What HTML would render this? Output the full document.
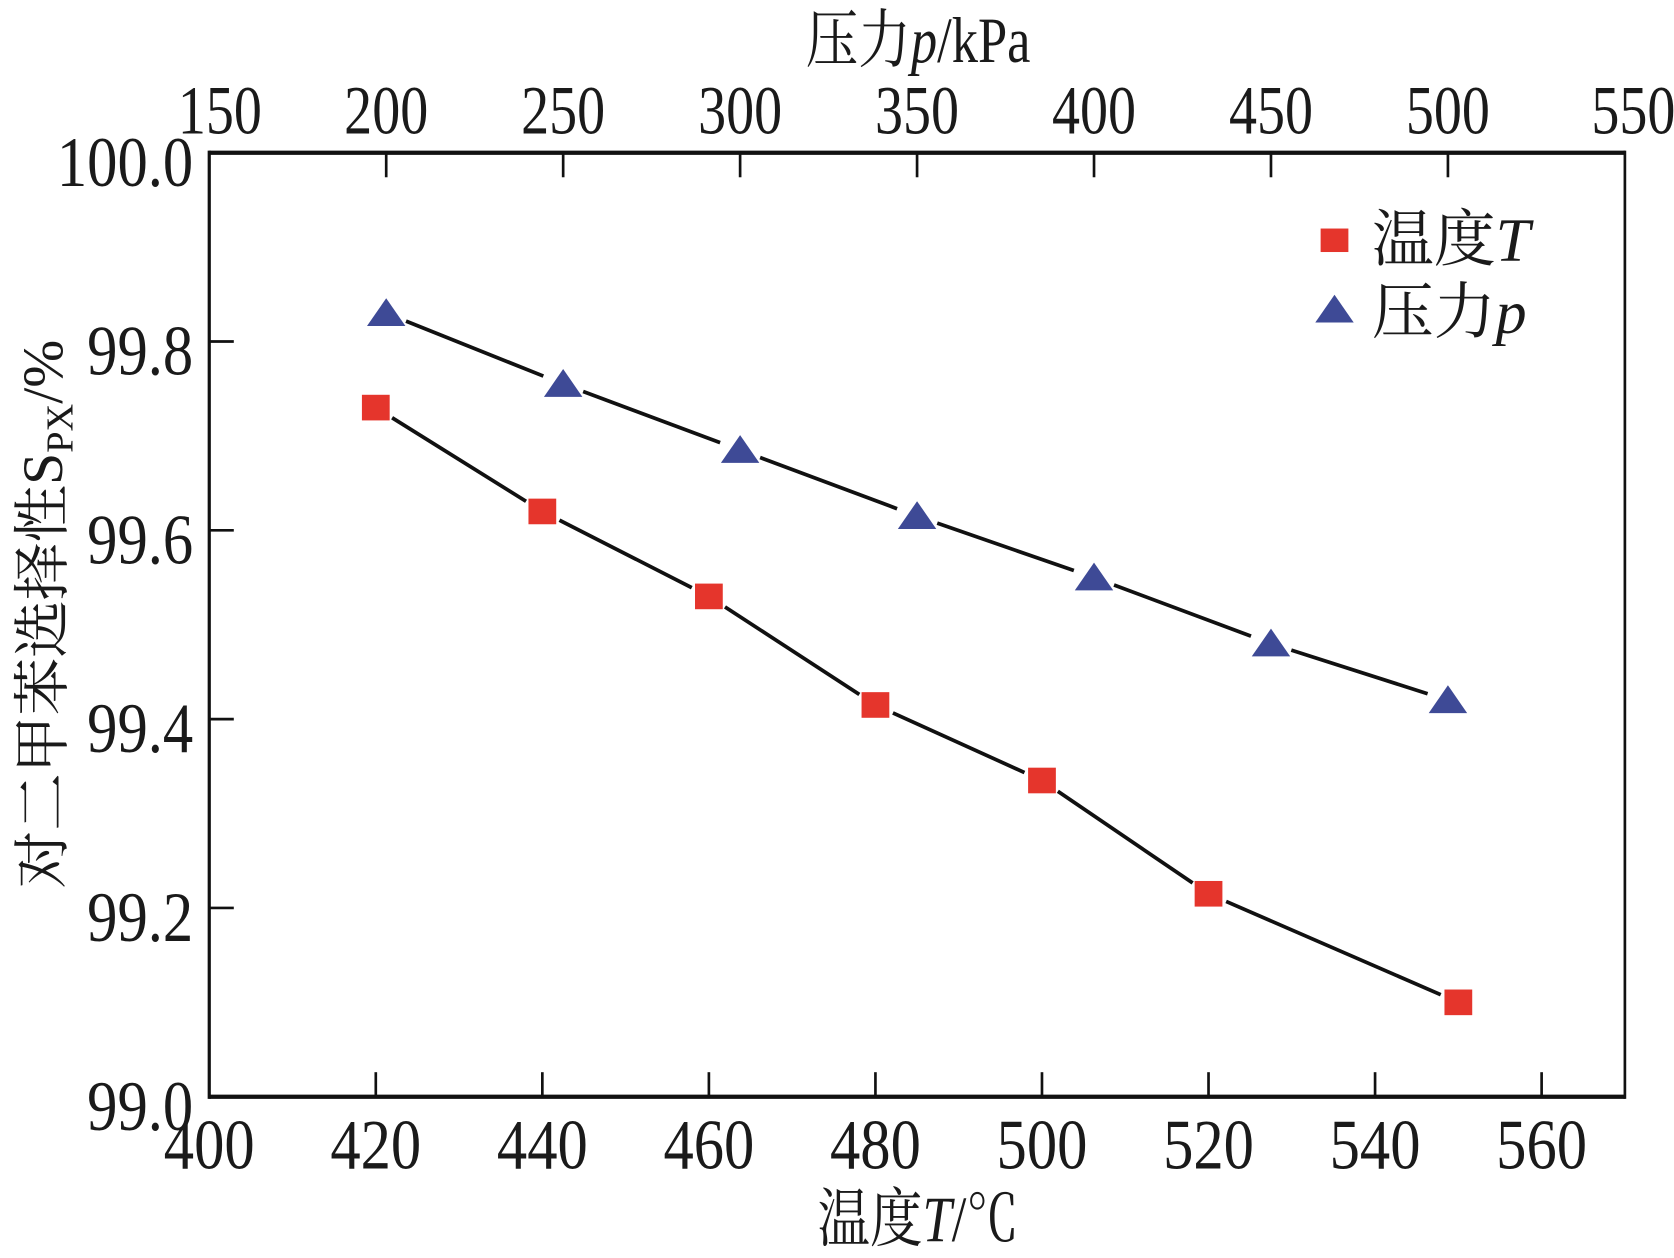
<!DOCTYPE html>
<html><head><meta charset="utf-8"><style>
html,body{margin:0;padding:0;background:#fff;}
svg{display:block;}
text{font-family:"Liberation Serif","Noto Serif CJK SC","Noto Sans CJK SC",serif;fill:#1a1a1a;}
</style></head><body>
<svg id="chart" width="1674" height="1258" viewBox="0 0 1568 1178" preserveAspectRatio="none" xmlns="http://www.w3.org/2000/svg"></svg>
<script>
const tempCats=[420,440,460,480,500,520,550];
const tempVals=[99.73,99.62,99.53,99.415,99.335,99.215,99.10];
const presCats=[200,250,300,350,400,450,500];
const presVals=[99.83,99.755,99.685,99.615,99.55,99.48,99.42];
const xTicks=[400,420,440,460,480,500,520,540,560];
const topTicks=[150,200,250,300,350,400,450,500,550];
const yTicks=[99.0,99.2,99.4,99.6,99.8,100.0];

const L=196,R=1522,T=143,B=1027;
const xT=v=>L+(v-400)/170*(R-L);
const xP=v=>L+(v-150)/400*(R-L);
const yS=v=>B-(v-99)/1*(B-T);
const svg=document.getElementById('chart');
const NS='http://www.w3.org/2000/svg';
function mk(tag,attrs,parent){const e=document.createElementNS(NS,tag);for(const k in attrs)e.setAttribute(k,attrs[k]);(parent||svg).appendChild(e);return e;}
const SX=0.82;
function txt(s,x,y,size,anchor,sx){sx=sx||SX;const t=mk('text',{x:x/sx,y:y,'font-size':size,'text-anchor':anchor,transform:'scale('+sx+',1)'});t.textContent=s;return t;}

let e;
e=mk('line',{x1:L,y1:B,x2:R,y2:B,stroke:'#111','stroke-width':4});

e=mk('line',{x1:L,y1:T,x2:R,y2:T,stroke:'#111','stroke-width':4});

e=mk('line',{x1:L,y1:T-2,x2:L,y2:B+2,stroke:'#111','stroke-width':3});

e=mk('line',{x1:R,y1:T-2,x2:R,y2:B+2,stroke:'#111','stroke-width':2.5});


xTicks.forEach(v=>{const x=xT(v);
 if(v>400){e=mk('line',{x1:x,y1:B,x2:x,y2:B-23,stroke:'#111','stroke-width':2.5});}
 e=txt(String(v),x,1094,66,'middle',0.86);});
topTicks.forEach(v=>{const x=xP(v);
 if(v>150&&v<550){e=mk('line',{x1:x,y1:T,x2:x,y2:T+23,stroke:'#111','stroke-width':2.5});}
 e=txt(String(v),v==150?x+10:(v==550?x+8:x),125,64,'middle');});
yTicks.forEach(v=>{const y=yS(v);
 if(v>99&&v<100){e=mk('line',{x1:L,y1:y,x2:L+23,y2:y,stroke:'#111','stroke-width':2.5});}
 e=txt(v.toFixed(1),181,y+31,66,'end',0.86);});

function seg(xs,ys,gap){for(let i=0;i<xs.length-1;i++){const x1=xs[i],y1=ys[i],x2=xs[i+1],y2=ys[i+1];const d=Math.hypot(x2-x1,y2-y1);const ux=(x2-x1)/d,uy=(y2-y1)/d;
 e=mk('line',{x1:x1+ux*gap,y1:y1+uy*gap,x2:x2-ux*gap,y2:y2-uy*gap,stroke:'#111','stroke-width':3.5});}}
const tX=tempCats.map(xT),tY=tempVals.map(yS),pX=presCats.map(xP),pY=presVals.map(yS);
seg(tX,tY,18);seg(pX,pY,20);
tX.forEach((x,i)=>{e=mk('rect',{x:x-13,y:tY[i]-12,width:26,height:24,fill:'#e5352c'});});
pX.forEach((x,i)=>{const y=pY[i];e=mk('polygon',{points:`${x-18},${y+12} ${x+18},${y+12} ${x},${y-14}`,fill:'#3e4a96'});});

e=mk('rect',{x:1237,y:214,width:26,height:22,fill:'#e5352c'});
e=mk('polygon',{points:'1232,302 1268,302 1250,276',fill:'#3e4a96'});
e=mk('text',{x:1285,y:244,'font-size':58});e.innerHTML='温度<tspan font-style="italic">T</tspan>';
e=mk('text',{x:1285,y:312,'font-size':58});e.innerHTML='压力<tspan font-style="italic">p</tspan>';

e=mk('text',{x:860/SX,y:58,'font-size':60,'text-anchor':'middle',transform:'scale('+SX+',1)'});e.innerHTML='压力<tspan font-style="italic">p</tspan>/kPa';
e=mk('text',{x:860/SX,y:1162,'font-size':60,'text-anchor':'middle',transform:'scale('+SX+',1)'});e.innerHTML='温度<tspan font-style="italic">T</tspan>/℃';
e=mk('text',{x:0,y:0,'font-size':54,'text-anchor':'middle',transform:'translate(58,575) rotate(-90)'});e.innerHTML='对二甲苯选择性S<tspan font-size="36" dy="10">PX</tspan><tspan dy="-10">/%</tspan>';
</script>
</body></html>
